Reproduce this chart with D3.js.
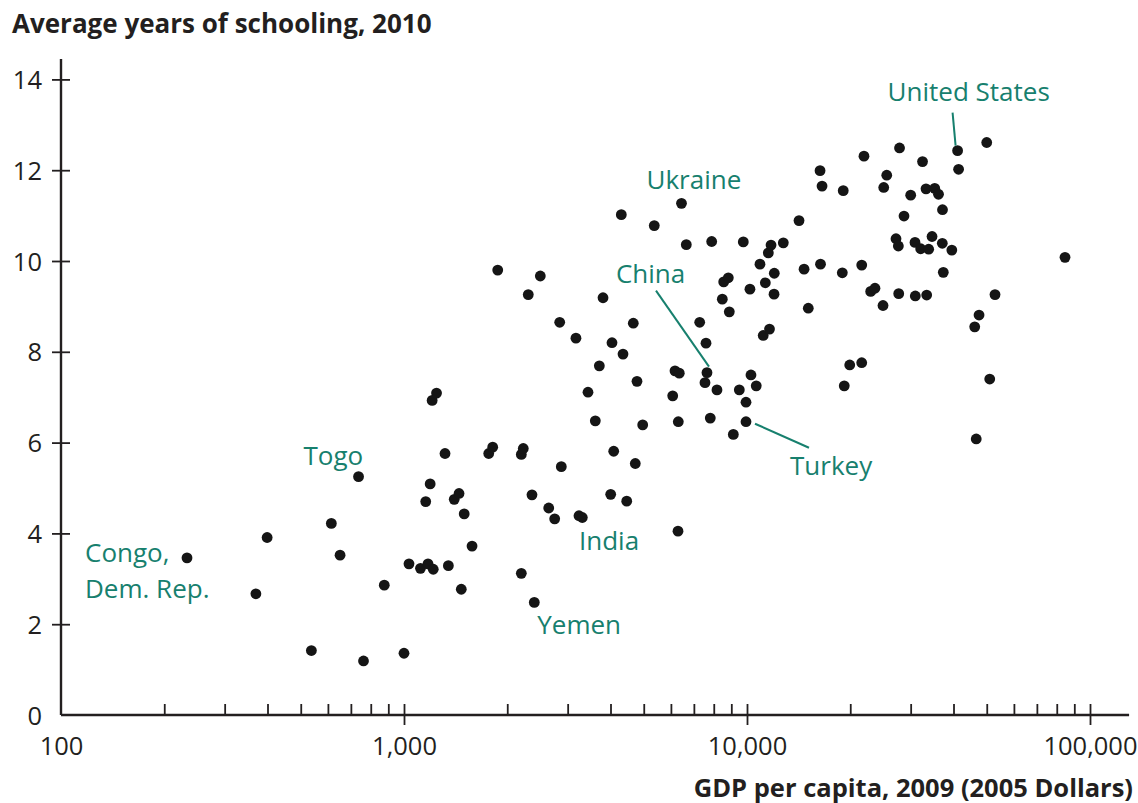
<!DOCTYPE html>
<html>
<head>
<meta charset="utf-8">
<script src="https://cdn.jsdelivr.net/npm/d3@7"></script>
<style>
  html, body { margin: 0; padding: 0; background: #ffffff; }
  svg { display: block; font-family: "Open Sans", "Noto Sans", sans-serif; }
</style>
</head>
<body>
<svg id="chart" width="1138" height="803"></svg>
<script>
// GDP per capita, 2009 (2005 dollars) for each country
const gdpPerCapita = [
  233, 370, 399, 537, 614, 651, 737, 762, 876, 1000,
  1034, 1117, 1175, 1217, 1347, 1157, 1192, 1208, 1244, 1317,
  1401, 1447, 1469, 1498, 1579, 1766, 1814, 1876, 2198, 2227,
  2198, 2303, 2361, 2398, 2497, 2642, 2750, 2844, 2875, 3172,
  3237, 3310, 3439, 3612, 3711, 3804, 4005, 4040, 4087, 4301,
  4350, 4460, 4661, 4724, 4778, 4965, 5366, 6073, 6167, 6292,
  6305, 6347, 6442, 6653, 7279, 7594, 7543, 7644, 7889, 7815,
  8174, 8472, 8552, 8821, 8880, 9123, 9497, 9755, 9933, 9933,
  10200, 10270, 10640, 10910, 11150, 11630, 11310, 11540, 11750, 12010,
  11990, 12760, 14180, 14670, 15090, 16380, 16330, 16550, 18960, 19080,
  19210, 19930, 21600, 21600, 21930, 22940, 23610, 24920, 25040, 25550,
  27190, 27620, 27690, 27840, 28690, 30010, 30890, 30950, 32090, 32490,
  33260, 33410, 33860, 34630, 35260, 36170, 37100, 37150, 37350, 39550,
  41110, 41390, 46120, 46590, 47480, 49990, 51010, 52850, 84560
];

// Average years of schooling, 2010, same country order
const yearsSchooling = [
  3.46, 2.67, 3.91, 1.42, 4.22, 3.52, 5.25, 1.19, 2.86, 1.36,
  3.33, 3.23, 3.33, 3.21, 3.29, 4.70, 5.09, 6.93, 7.09, 5.76,
  4.75, 4.88, 2.77, 4.43, 3.72, 5.76, 5.90, 9.80, 5.74, 5.87,
  3.12, 9.26, 4.85, 2.48, 9.67, 4.56, 4.32, 8.65, 5.47, 8.30,
  4.39, 4.35, 7.11, 6.48, 7.69, 9.19, 4.86, 8.20, 5.81, 11.02,
  7.95, 4.71, 8.63, 5.54, 7.35, 6.39, 10.78, 7.03, 7.58, 4.05,
  6.46, 7.53, 11.27, 10.36, 8.65, 8.19, 7.32, 7.54, 10.43, 6.54,
  7.16, 9.16, 9.54, 9.63, 8.88, 6.18, 7.16, 10.42, 6.89, 6.46,
  9.38, 7.49, 7.25, 9.93, 8.36, 8.50, 9.52, 10.18, 10.35, 9.73,
  9.27, 10.40, 10.89, 9.82, 8.96, 9.93, 11.99, 11.65, 9.74, 11.55,
  7.25, 7.71, 7.76, 9.91, 12.31, 9.33, 9.40, 9.02, 11.62, 11.89,
  10.49, 10.33, 9.28, 12.49, 10.99, 11.45, 10.41, 9.23, 10.27, 12.19,
  11.59, 9.25, 10.26, 10.54, 11.60, 11.47, 10.39, 11.13, 9.75, 10.24,
  12.43, 12.02, 8.55, 6.08, 8.81, 12.61, 7.40, 9.26, 10.08
];

// Named countries: position of each in the arrays above
const labeledNames = ["Congo,\nDem. Rep.", "Togo", "Yemen", "India", "Ukraine", "China", "Turkey", "United States"];
const labeledIndex = [0, 6, 33, 40, 62, 67, 79, 130];

// Axis ticks
const yTicks = [0, 2, 4, 6, 8, 10, 12, 14];
const xMajorTicks = [100, 1000, 10000, 100000];

const xTitle = "GDP per capita, 2009 (2005 Dollars)";
const yTitle = "Average years of schooling, 2010";

// ---------------------------------------------------------------------------
const INK = "#231f20";
const TEAL = "#17806e";

const svg = d3.select("#chart");

const x = d3.scaleLog().domain([100, 100000]).range([61, 1090]);
const y = d3.scaleLinear().domain([0, 14]).range([715, 79.4]);

const xMinorTicks = [];
[100, 1000, 10000].forEach(base => {
  for (let k = 2; k <= 9; k++) xMinorTicks.push(base * k);
});

// axis lines
svg.append("line")
  .attr("x1", x(100)).attr("x2", x(100))
  .attr("y1", y(0)).attr("y2", y(14.45))
  .attr("stroke", INK).attr("stroke-width", 2.4);
svg.append("line")
  .attr("x1", x(100)).attr("x2", x(130000))
  .attr("y1", y(0)).attr("y2", y(0))
  .attr("stroke", INK).attr("stroke-width", 2.4);

// y axis: ticks cross the axis line
const yAxisG = svg.append("g")
  .attr("transform", `translate(${x(100)},0)`)
  .call(d3.axisLeft(y).tickValues(yTicks).tickSize(9).tickPadding(10));
yAxisG.select(".domain").remove();
yAxisG.selectAll(".tick line")
  .attr("x1", 9)
  .attr("stroke", INK).attr("stroke-width", 1.8)
  .filter(d => d === 0).remove();
yAxisG.selectAll(".tick text")
  .attr("fill", INK)
  .style("font-family", "'Open Sans', sans-serif")
  .style("font-size", "25.5px")
  .attr("dy", "0.36em");

// x axis: minor ticks above the line
const xMinorG = svg.append("g")
  .attr("transform", `translate(0,${y(0)})`)
  .call(d3.axisBottom(x).tickValues(xMinorTicks).tickSize(-11).tickFormat(""));
xMinorG.select(".domain").remove();
xMinorG.selectAll(".tick line").attr("stroke", INK).attr("stroke-width", 1.8);

// x axis: major ticks crossing the line, with labels
const xMajorG = svg.append("g")
  .attr("transform", `translate(0,${y(0)})`)
  .call(d3.axisBottom(x).tickValues(xMajorTicks).tickSize(10).tickPadding(12)
    .tickFormat(d3.format(",")));
xMajorG.select(".domain").remove();
xMajorG.selectAll(".tick line")
  .attr("y1", -11)
  .attr("stroke", INK).attr("stroke-width", 1.8)
  .filter(d => d === 100).remove();
xMajorG.selectAll(".tick text")
  .attr("fill", INK)
  .style("font-family", "'Open Sans', sans-serif")
  .style("font-size", "25.5px");

// titles
svg.append("text")
  .attr("x", 12).attr("y", 33)
  .attr("fill", INK)
  .style("font-weight", 700).style("font-size", "26px")
  .text(yTitle);
svg.append("text")
  .attr("x", 1133).attr("y", 797)
  .attr("text-anchor", "end")
  .attr("fill", INK)
  .style("font-weight", 700).style("font-size", "25.5px")
  .text(xTitle);

// points
const points = gdpPerCapita.map((g, i) => ({ gdp: g, yrs: yearsSchooling[i] }));
svg.append("g")
  .selectAll("circle")
  .data(points)
  .join("circle")
  .attr("cx", d => x(d.gdp))
  .attr("cy", d => y(d.yrs))
  .attr("r", 5.4)
  .attr("fill", "#151515");

// country labels: offsets from the point, leader line (if any) from label to point
const labelLayout = {
  "Congo,\nDem. Rep.": { dx: -102, dy: 4.5, lineH: 35.5 },
  "Togo": { dx: -55, dy: -12 },
  "Yemen": { dx: 3, dy: 32 },
  "India": { dx: 0, dy: 34 },
  "Ukraine": { dx: -35, dy: -14 },
  "China": { dx: -91, dy: -90, leader: [[-51, -82], [2, -6]] },
  "Turkey": { dx: 44, dy: 53, leader: [[9, 2], [63, 26]] },
  "United States": { dx: -70, dy: -50, leader: [[-5, -38], [-2, -5]] }
};

// multi-line labels get one text element per line
const labels = svg.append("g");
labeledNames.forEach((name, k) => {
  const d = points[labeledIndex[k]];
  const px = x(d.gdp), py = y(d.yrs);
  const L = labelLayout[name];
  name.split("\n").forEach((line, j) => {
    labels.append("text")
      .attr("x", px + L.dx)
      .attr("y", py + L.dy + j * (L.lineH || 0))
      .attr("fill", TEAL)
      .style("font-size", "26px")
      .text(line);
  });
  if (L.leader) {
    labels.append("line")
      .attr("x1", px + L.leader[0][0]).attr("y1", py + L.leader[0][1])
      .attr("x2", px + L.leader[1][0]).attr("y2", py + L.leader[1][1])
      .attr("stroke", TEAL).attr("stroke-width", 2);
  }
});
</script>
</body>
</html>
